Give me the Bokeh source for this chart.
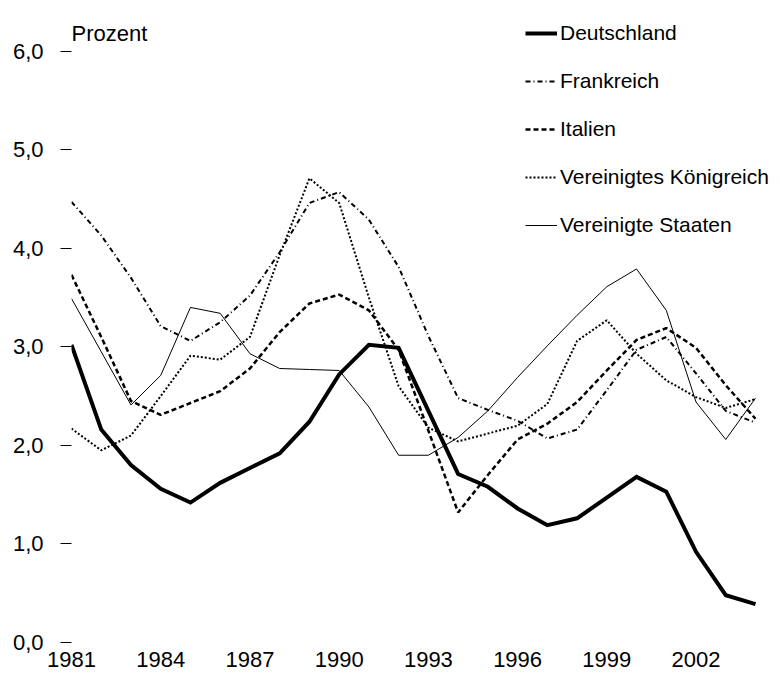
from bokeh.plotting import figure
from bokeh.models import FixedTicker, Range1d, Legend, LegendItem, Label
from bokeh.embed import file_html
from bokeh.resources import INLINE

years = list(range(1981, 2005))
deutschland = [3.02, 2.16, 1.80, 1.56, 1.42, 1.62, 1.77, 1.92, 2.24, 2.72, 3.02, 2.99,
               2.35, 1.71, 1.58, 1.36, 1.19, 1.26, 1.47, 1.68, 1.53, 0.92, 0.48, 0.39]
frankreich = [4.47, 4.13, 3.70, 3.21, 3.06, 3.25, 3.52, 3.96, 4.46, 4.57, 4.29, 3.81,
              3.11, 2.48, 2.36, 2.25, 2.07, 2.16, 2.56, 2.97, 3.10, 2.73, 2.35, 2.23]
italien = [3.73, 3.10, 2.45, 2.31, 2.43, 2.55, 2.78, 3.15, 3.44, 3.53, 3.37, 2.97,
           2.15, 1.32, 1.70, 2.06, 2.22, 2.44, 2.76, 3.07, 3.19, 2.99, 2.61, 2.27]
vk = [2.17, 1.95, 2.10, 2.50, 2.91, 2.87, 3.10, 3.93, 4.71, 4.46, 3.50, 2.60,
      2.18, 2.04, 2.12, 2.20, 2.42, 3.06, 3.27, 2.93, 2.66, 2.49, 2.38, 2.47]
vs = [3.49, 2.95, 2.41, 2.71, 3.40, 3.34, 2.93, 2.78, 2.77, 2.76, 2.39, 1.90,
      1.90, 2.08, 2.35, 2.69, 3.01, 3.32, 3.61, 3.79, 3.37, 2.44, 2.06, 2.48]

series_names = ["Deutschland", "Frankreich", "Italien", "Vereinigtes Königreich", "Vereinigte Staaten"]
y_ticks = [0, 1, 2, 3, 4, 5, 6]
y_tick_labels = ["0,0", "1,0", "2,0", "3,0", "4,0", "5,0", "6,0"]
x_ticks = [1981, 1984, 1987, 1990, 1993, 1996, 1999, 2002]
unit_label = "Prozent"

FONT = "Liberation Sans"

x0, x1 = 1981, 2004.84
p = figure(width=780, height=679, output_backend="svg", toolbar_location=None,
           x_range=Range1d(x0, x1), y_range=Range1d(0, 6.514),
           min_border=0, min_border_left=71, min_border_bottom=37)
p.outline_line_color = None
p.grid.visible = False
p.background_fill_color = "white"
p.border_fill_color = "white"

# y axis
ya = p.yaxis[0]
ya.ticker = FixedTicker(ticks=y_ticks)
ya.major_label_overrides = {t: l for t, l in zip(y_ticks, y_tick_labels)}
ya.axis_line_color = None
ya.major_tick_out = 11
ya.major_tick_in = 0
ya.minor_tick_line_color = None
ya.major_tick_line_color = "black"
ya.major_tick_line_width = 1
ya.major_label_standoff = 17
ya.major_label_text_font = FONT
ya.major_label_text_font_size = "22px"
ya.major_label_text_color = "black"

# x axis
xa = p.xaxis[0]
xa.ticker = FixedTicker(ticks=x_ticks)
xa.axis_line_color = None
xa.major_tick_line_color = None
xa.minor_tick_line_color = None
xa.major_tick_out = 0
xa.major_tick_in = 0
xa.major_label_standoff = 9
xa.major_label_text_font = FONT
xa.major_label_text_font_size = "22px"
xa.major_label_text_color = "black"

r_de = p.line(years, deutschland, line_color="black", line_width=4, line_join="miter")
r_fr = p.line(years, frankreich, line_color="black", line_width=2, line_dash="5 3 1 3")
r_it = p.line(years, italien, line_color="black", line_width=2.5, line_dash="5 3")
r_vk = p.line(years, vk, line_color="black", line_width=2, line_dash="2 2")
r_vs = p.line(years, vs, line_color="black", line_width=1)

legend = Legend(items=[LegendItem(label=n, renderers=[r]) for n, r in
                       zip(series_names, [r_de, r_fr, r_it, r_vk, r_vs])],
                location=(454, 402))
legend.label_text_font = FONT
legend.label_text_font_size = "21px"
legend.label_text_color = "black"
legend.glyph_width = 32
legend.glyph_height = 30
legend.label_height = 30
legend.label_standoff = 3
legend.spacing = 18
legend.padding = 0
legend.margin = 0
legend.border_line_color = None
legend.background_fill_alpha = 0
p.add_layout(legend, "center")

p.add_layout(Label(x=1981, y=6.176, text=unit_label, text_font=FONT,
                   text_font_size="22px", text_color="black",
                   text_align="left", text_baseline="alphabetic"))

open("out.html", "w").write(file_html(p, INLINE))
